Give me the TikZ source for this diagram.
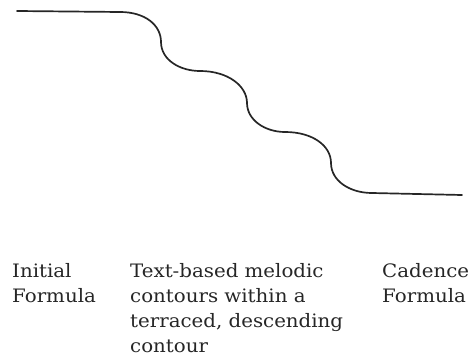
\documentclass[tikz,border=0pt]{standalone}
\usepackage{fontspec}
\setmainfont{DejaVu Serif}[FakeStretch=1.07]
\begin{document}
\begin{tikzpicture}[x=1pt,y=-1pt,
  contour/.style={line width=1.7pt,draw=black!85,line cap=round},
  label/.style={anchor=base west,inner sep=0pt,align=left,
    font=\fontsize{18.5}{25}\selectfont,text=black!85}]
\useasboundingbox (0,0) rectangle (470,358);
\coordinate (s) at (17,11);
\coordinate (e) at (462,195);
\draw[contour] (s) -- (120,12)
  .. controls (145,12) and (161,25) .. (161,42)
  .. controls (161,60) and (180,71) .. (200,71)
  .. controls (228,71) and (247,86) .. (247,103)
  .. controls (247,120) and (265,132) .. (285,132)
  .. controls (313,132) and (331,146) .. (331,163)
  .. controls (331,181) and (350,193) .. (372,193)
  -- (e);
% base anchor of a multi-line node is the baseline of its last line
\node[label] (initial) at (12,302) {Initial\\Formula};
\node[label] (middle) at (130,352) {Text-based melodic\\contours within a\\terraced, descending\\contour};
\node[label] (cadence) at (382,302) {Cadence\\Formula};
\end{tikzpicture}
\end{document}
